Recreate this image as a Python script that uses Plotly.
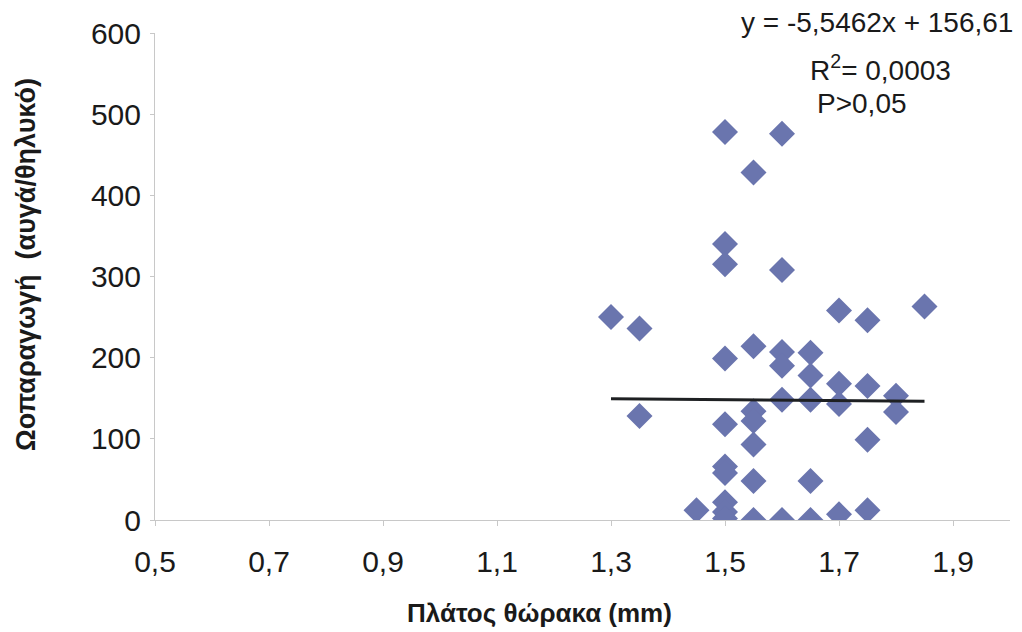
import plotly.graph_objects as go

# Thorax width (mm) and egg production (eggs/female) per female
thorax_width = [
    1.30, 1.35, 1.35,
    1.50, 1.60, 1.55, 1.50, 1.50, 1.60,
    1.50, 1.55, 1.60, 1.65, 1.60, 1.65,
    1.70, 1.75, 1.85, 1.70, 1.75,
    1.60, 1.65, 1.70, 1.80, 1.80,
    1.55, 1.55, 1.50, 1.55, 1.75,
    1.50, 1.50, 1.55, 1.65,
    1.45, 1.50, 1.50, 1.50, 1.55, 1.60, 1.65, 1.70, 1.75,
]
egg_production = [
    250, 236, 128,
    478, 476, 428, 340, 315, 308,
    199, 214, 207, 206, 190, 178,
    258, 246, 263, 168, 165,
    148, 148, 143, 153, 133,
    134, 122, 118, 93, 99,
    66, 58, 48, 48,
    12, 22, 10, 2, 0, 0, 0, 7, 12,
]

# Linear trend line: y = slope * x + intercept
slope = -5.5462
intercept = 156.61
trend_x = [1.30, 1.85]
trend_y = [slope * v + intercept for v in trend_x]

x_tick_vals = [0.5, 0.7, 0.9, 1.1, 1.3, 1.5, 1.7, 1.9]
x_tick_text = ["0,5", "0,7", "0,9", "1,1", "1,3", "1,5", "1,7", "1,9"]
y_tick_vals = [0, 100, 200, 300, 400, 500, 600]

FONT = "Liberation Sans, Arial, sans-serif"
TEXT = "#1a1a1a"
AXIS = "#c8c8c8"

fig = go.Figure()
fig.add_trace(go.Scatter(
    x=thorax_width, y=egg_production, mode="markers",
    marker=dict(symbol="diamond", size=20, color="#6A75AE",
                line=dict(width=0)),
    showlegend=False, hoverinfo="x+y",
))
fig.add_trace(go.Scatter(
    x=trend_x, y=trend_y, mode="lines",
    line=dict(color="#1e2022", width=3),
    showlegend=False, hoverinfo="skip",
))

fig.update_layout(
    width=1022, height=632,
    margin=dict(l=155, r=12, t=33, b=112),
    paper_bgcolor="white", plot_bgcolor="white",
    font=dict(family=FONT, color=TEXT),
    xaxis=dict(
        range=[0.5, 2.0], tickvals=x_tick_vals, ticktext=x_tick_text,
        showgrid=False, zeroline=False,
        showline=True, linecolor=AXIS, linewidth=1,
        ticks="outside", ticklen=5, tickcolor=AXIS,
        tickfont=dict(size=30, color=TEXT, family=FONT),
        ticklabelstandoff=10,
    ),
    yaxis=dict(
        range=[0, 600], tickvals=y_tick_vals,
        showgrid=False, zeroline=False,
        showline=True, linecolor=AXIS, linewidth=1,
        ticks="outside", ticklen=4, tickcolor=AXIS,
        tickfont=dict(size=30, color=TEXT, family=FONT),
        ticklabelstandoff=3,
    ),
)

# Axis titles
fig.add_annotation(
    xref="paper", yref="paper", x=(539 - 155) / 855, y=-(613 - 520) / 487,
    xanchor="center", yanchor="middle", showarrow=False,
    text="<b>Πλάτος θώρακα (mm)</b>",
    font=dict(size=26, color=TEXT, family=FONT),
)
fig.add_annotation(
    xref="paper", yref="paper", x=-(155 - 26) / 855, y=(520 - 265) / 487,
    xanchor="center", yanchor="middle", showarrow=False, textangle=-90,
    text="<b>Ωοπαραγωγή\u00a0\u00a0(αυγά/θηλυκό)</b>",
    font=dict(size=27, color=TEXT, family=FONT),
)

# Regression statistics
fig.add_annotation(
    xref="paper", yref="paper", x=(1015 - 155) / 855, y=(520 - 22) / 487,
    xanchor="right", yanchor="middle", showarrow=False,
    text="y = -5,5462x + 156,61",
    font=dict(size=28, color=TEXT, family=FONT),
)
fig.add_annotation(
    xref="paper", yref="paper", x=(808 - 155) / 855, y=(520 - 68) / 487,
    xanchor="left", yanchor="middle", showarrow=False,
    text="R<sup>2</sup>= 0,0003",
    font=dict(size=28, color=TEXT, family=FONT),
)
fig.add_annotation(
    xref="paper", yref="paper", x=(815 - 155) / 855, y=(520 - 103) / 487,
    xanchor="left", yanchor="middle", showarrow=False,
    text="P>0,05",
    font=dict(size=28, color=TEXT, family=FONT),
)

fig.write_html("out.html")
